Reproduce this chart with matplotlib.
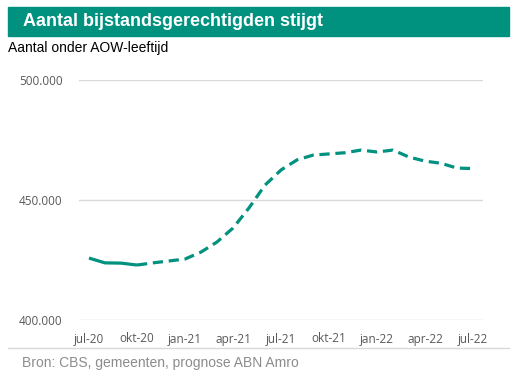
import matplotlib
matplotlib.use("Agg")
import matplotlib.pyplot as plt
from matplotlib.patches import Rectangle
from matplotlib.lines import Line2D

months = ["jul-20", "aug-20", "sep-20", "okt-20", "nov-20", "dec-20", "jan-21", "feb-21",
          "mrt-21", "apr-21", "mei-21", "jun-21", "jul-21", "aug-21", "sep-21", "okt-21",
          "nov-21", "dec-21", "jan-22", "feb-22", "mrt-22", "apr-22", "mei-22", "jun-22", "jul-22"]
values = [425800, 423800, 423700, 422900, 423800, 424600, 425400, 428300,
          432500, 438300, 446700, 456200, 462500, 466700, 468700, 469200,
          469700, 470800, 470000, 470800, 467900, 466200, 465300, 463300, 463100]
n_actual = 4  # jul-20 .. okt-20 realised, rest forecast
tick_labels = ["jul-20", "okt-20", "jan-21", "apr-21", "jul-21", "okt-21", "jan-22", "apr-22", "jul-22"]
yticks = [400000, 450000, 500000]

TEAL = "#00917F"
W, H = 521, 381
fig = plt.figure(figsize=(W / 100, H / 100), dpi=100)
fig.patch.set_facecolor("white")

def fx(px): return px / W
def fy(py): return 1 - py / H

ax = fig.add_axes([fx(79), fy(320), fx(483) - fx(79), fy(80) - fy(320)])
x = list(range(len(months)))
ax.plot(x[:n_actual], values[:n_actual], color=TEAL, lw=2.3, solid_capstyle="butt")
ax.plot(x[n_actual - 1:], values[n_actual - 1:], color=TEAL, lw=2.3,
        dashes=(3.2, 1.8), dash_capstyle="butt")
ax.set_xlim(-0.625, len(months) - 1 + 0.625)
ax.set_ylim(400000, 500000)
ax.set_yticks(yticks)
ax.set_yticklabels([f"{v:,}".replace(",", ".") for v in yticks])
ax.set_xticks([months.index(m) for m in tick_labels])
ax.set_xticklabels(tick_labels)
ax.grid(axis="y", color="#D9D9D9", lw=1)
ax.set_axisbelow(True)
for s in ax.spines.values():
    s.set_visible(False)
ax.tick_params(length=0, labelsize=8.5, labelcolor="#595959", pad=12)
ax.tick_params(axis="x", pad=9)
for lab in ax.get_xticklabels() + ax.get_yticklabels():
    lab.set_family("Open Sans")

fig.patches.append(Rectangle((fx(8), fy(36)), fx(509) - fx(8), fy(7) - fy(36),
                             transform=fig.transFigure, color=TEAL, zorder=0))
fig.text(fx(23), fy(21.5), "Aantal bijstandsgerechtigden stijgt", color="white",
         fontsize=13, fontweight="bold", family="Liberation Sans", va="center", ha="left")
fig.text(fx(8), fy(48), "Aantal onder AOW-leeftijd", color="black",
         fontsize=10, family="Liberation Sans", va="center", ha="left")
fig.lines.append(Line2D([fx(8), fx(509)], [fy(348), fy(348)], transform=fig.transFigure,
                        color="#D9D9D9", lw=1))
fig.text(fx(22), fy(363), "Bron: CBS, gemeenten, prognose ABN Amro", color="#8C8C8C",
         fontsize=10, family="Liberation Sans", va="center", ha="left")

fig.savefig("out.png", dpi=100)
